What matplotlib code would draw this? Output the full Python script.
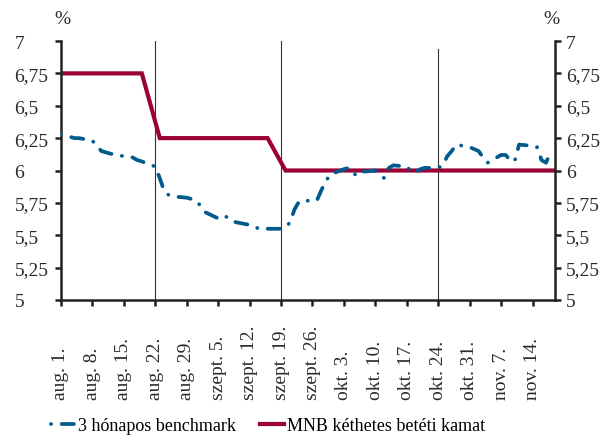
import matplotlib
matplotlib.use("Agg")
import matplotlib.pyplot as plt
import matplotlib.dates as mdates
import pandas as pd

plt.rcParams['font.family'] = ['Liberation Serif', 'DejaVu Serif']
plt.rcParams['lines.scale_dashes'] = False

# 3 month benchmark yield, business days (1 Nov holiday left out)
bench_dates = pd.bdate_range("2005-08-01", "2005-11-18").drop(pd.Timestamp("2005-11-01"))
bench_vals = [
    6.28, 6.27, 6.26, 6.25, 6.25,      # aug 1-5
    6.23, 6.19, 6.15, 6.14, 6.13,      # aug 8-12
    6.11, 6.11, 6.10, 6.08, 6.07,      # aug 15-19
    6.03, 5.94, 5.84, 5.81, 5.80,      # aug 22-26
    5.79, 5.78, 5.77, 5.73, 5.68,      # aug 29 - sep 2
    5.63, 5.65, 5.64, 5.61, 5.60,      # sep 5-9
    5.58, 5.57, 5.55, 5.55, 5.55,      # sep 12-16
    5.55, 5.56, 5.60, 5.70, 5.76,      # sep 19-23
    5.77, 5.77, 5.85, 5.92, 5.97,      # sep 26-30
    6.01, 6.02, 5.98, 5.96, 5.99,      # okt 3-7
    6.00, 5.97, 5.94, 6.02, 6.04,      # okt 10-14
    6.03, 5.99, 5.99, 6.01, 6.02,      # okt 17-21
    6.02, 6.04, 6.11, 6.15, 6.20,      # okt 24-28
    6.18, 6.15, 6.10, 6.06,            # okt 31 - nov 4
    6.12, 6.12, 6.08, 6.07, 6.20,      # nov 7-11
    6.19, 6.18, 6.08, 6.06, 6.14,      # nov 14-18
]

# MNB two-week deposit rate
rate_dates = pd.to_datetime(["2005-08-01", "2005-08-19", "2005-08-23",
                             "2005-09-16", "2005-09-20", "2005-11-19"])
rate_vals = [6.75, 6.75, 6.25, 6.25, 6.00, 6.00]

# rate-setting meetings
meeting_dates = pd.to_datetime(["2005-08-22", "2005-09-19", "2005-10-24"])
meeting_tops = [1.0, 1.0, 0.97]

tick_dates = pd.date_range("2005-08-01", "2005-11-14", freq="7D")
tick_labels = ["aug. 1.", "aug. 8.", "aug. 15.", "aug. 22.", "aug. 29.",
               "szept. 5.", "szept. 12.", "szept. 19.", "szept. 26.",
               "okt. 3.", "okt. 10.", "okt. 17.", "okt. 24.", "okt. 31.",
               "nov. 7.", "nov. 14."]
y_ticks = [5, 5.25, 5.5, 5.75, 6, 6.25, 6.5, 6.75, 7]
y_labels = ["5", "5,25", "5,5", "5,75", "6", "6,25", "6,5", "6,75", "7"]

blue = '#005b8c'
red = '#9b0036'
dark = '#222222'
txt = '#2a2a2a'

fig = plt.figure(figsize=(6.03, 4.39), dpi=100)
ax = fig.add_axes([61/603, 1 - 301/439, (555 - 61)/603, (301 - 42)/439])

for d, top in zip(meeting_dates, meeting_tops):
    ax.axvline(d, ymin=0, ymax=top, color='#333333', lw=0.8, zorder=1)

# dash - gap - dot - gap, offset so the pattern starts on the dot
ax.plot(bench_dates, bench_vals, color=blue, lw=2.7,
        linestyle=(16.4, (8.8, 7.6, 0.1, 7.6)), dash_capstyle='round',
        label='3 hónapos benchmark', zorder=3)
ax.plot(rate_dates, rate_vals, color=red, lw=3.0,
        solid_joinstyle='miter', label='MNB kéthetes betéti kamat', zorder=2)

ax.set_xlim(pd.Timestamp("2005-08-01"), pd.Timestamp("2005-11-19"))
ax.set_ylim(5, 7)
ax.set_xticks(tick_dates)
ax.set_xticklabels(tick_labels)
ax.set_yticks(y_ticks)
ax.set_yticklabels(y_labels)

for s in ['top', 'right']:
    ax.spines[s].set_visible(False)
for s in ['left', 'bottom']:
    ax.spines[s].set_linewidth(1.8)
    ax.spines[s].set_color(dark)

ax.tick_params(axis='y', direction='out', length=4.5, width=1.8, color=dark,
               labelsize=14, pad=29, labelcolor=txt)
for lbl in ax.get_yticklabels():
    lbl.set_ha('left')
ax.tick_params(axis='x', direction='out', length=4, width=1.8, color=dark,
               labelsize=14, pad=67, labelcolor=txt)
for lbl in ax.get_xticklabels():
    lbl.set_rotation(90)
    lbl.set_rotation_mode('anchor')
    lbl.set_ha('left')
    lbl.set_va('center')

ax2 = ax.twinx()
ax2.set_ylim(5, 7)
ax2.set_yticks(y_ticks)
ax2.set_yticklabels(y_labels)
for s in ['top', 'left', 'bottom']:
    ax2.spines[s].set_visible(False)
ax2.spines['right'].set_linewidth(1.8)
ax2.spines['right'].set_color(dark)
ax2.tick_params(axis='y', direction='out', length=4, width=1.8, color=dark,
                labelsize=14, pad=4, labelcolor=txt)

fig.text(62/603, 1 - 19/439, '%', ha='center', va='center', fontsize=14, color=txt)
fig.text(551/603, 1 - 20/439, '%', ha='center', va='center', fontsize=14, color=txt)

fig.legend(*ax.get_legend_handles_labels(), loc='center', ncol=2, frameon=False,
           bbox_to_anchor=(268/603, 12/439), fontsize=13, handlelength=1.35,
           handletextpad=0.15, columnspacing=1.3)

fig.savefig('out.png', dpi=100)
